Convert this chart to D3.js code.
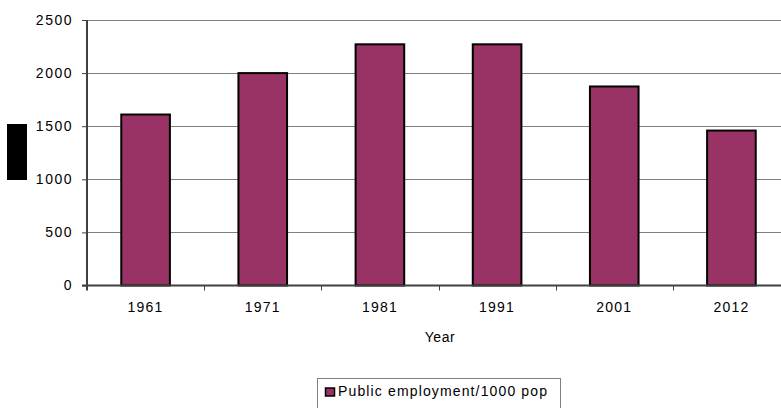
<!DOCTYPE html>
<html>
<head>
<meta charset="utf-8">
<script src="https://cdn.jsdelivr.net/npm/d3@7"></script>
<style>
  html, body { margin: 0; padding: 0; background: #fff; }
  svg { display: block; }
  text { font-family: "Liberation Sans", Arial, sans-serif; fill: #000; }
</style>
</head>
<body>
<svg id="chart" width="781" height="408"></svg>
<script>
// Public employment per 1000 population, census years
const years = ["1961", "1971", "1981", "1991", "2001", "2012"];
const employment = [1610, 2000, 2271, 2271, 1874, 1459];
const yTicks = [0, 500, 1000, 1500, 2000, 2500];
const seriesName = "Public employment/1000 pop";
const xTitle = "Year";

const svg = d3.select("#chart");
const plot = { left: 87, right: 790, top: 20, bottom: 285.5 };

const x = d3.scaleBand()
  .domain(years)
  .range([plot.left, plot.right])
  .paddingInner(0.585)
  .paddingOuter(0.2925);

const xCat = d3.scaleBand().domain(years).range([plot.left, plot.right]);

const y = d3.scaleLinear().domain([0, 2500]).range([plot.bottom, plot.top]);

// horizontal gridlines
svg.append("g")
  .selectAll("line")
  .data(yTicks.filter(d => d > 0))
  .join("line")
  .attr("x1", plot.left).attr("x2", plot.right)
  .attr("y1", d => Math.round(y(d)) + 0.5).attr("y2", d => Math.round(y(d)) + 0.5)
  .attr("stroke", "#808080").attr("stroke-width", 1);

// bars
svg.append("g")
  .selectAll("rect")
  .data(years.map((yr, i) => ({ yr, v: employment[i] })))
  .join("rect")
  .attr("x", d => x(d.yr))
  .attr("width", x.bandwidth())
  .attr("y", d => y(d.v))
  .attr("height", d => y(0) - y(d.v))
  .attr("fill", "#993366")
  .attr("stroke", "#000")
  .attr("stroke-width", 2);

// y axis
const yAxis = d3.axisLeft(y).tickValues(yTicks).tickSize(5).tickPadding(9).tickFormat(d3.format("d"));
const gy = svg.append("g").attr("transform", `translate(${plot.left},0)`).call(yAxis);
gy.select(".domain").remove();
gy.selectAll(".tick line").attr("stroke", "#404040").attr("stroke-width", 1);
gy.selectAll(".tick text")
  .style("font-family", "'Liberation Sans', Arial, sans-serif")
  .style("font-size", "14px")
  .style("letter-spacing", "1.5px")
  .attr("fill", "#000");
svg.append("line")
  .attr("x1", plot.left).attr("x2", plot.left)
  .attr("y1", plot.top).attr("y2", plot.bottom + 5)
  .attr("stroke", "#404040").attr("stroke-width", 2);

// x axis
const gx = svg.append("g").attr("transform", `translate(0,${plot.bottom})`)
  .call(d3.axisBottom(xCat).tickSize(0).tickPadding(17));
gx.select(".domain").remove();
gx.selectAll(".tick text")
  .style("font-family", "'Liberation Sans', Arial, sans-serif")
  .style("font-size", "14px")
  .style("letter-spacing", "1.2px")
  .attr("fill", "#000");
svg.append("line")
  .attr("x1", plot.left - 5).attr("x2", plot.right)
  .attr("y1", plot.bottom).attr("y2", plot.bottom)
  .attr("stroke", "#404040").attr("stroke-width", 2);
// category separator ticks
svg.append("g")
  .selectAll("line")
  .data(years.slice(1))
  .join("line")
  .attr("x1", d => Math.round(xCat(d)) + 0.5).attr("x2", d => Math.round(xCat(d)) + 0.5)
  .attr("y1", plot.bottom).attr("y2", plot.bottom + 5)
  .attr("stroke", "#404040").attr("stroke-width", 1);

// axis titles
svg.append("text")
  .attr("x", 440).attr("y", 342)
  .attr("text-anchor", "middle")
  .style("font-size", "14px")
  .style("letter-spacing", "0.6px")
  .text(xTitle);

// y axis title block
svg.append("rect")
  .attr("x", 7).attr("y", 124).attr("width", 20).attr("height", 56)
  .attr("fill", "#000");

// legend
const lg = svg.append("g");
lg.append("rect")
  .attr("x", 317.5).attr("y", 378.5).attr("width", 243).attr("height", 40)
  .attr("fill", "#fff").attr("stroke", "#808080").attr("stroke-width", 1);
lg.append("rect")
  .attr("x", 325.5).attr("y", 388).attr("width", 9).attr("height", 8)
  .attr("fill", "#993366").attr("stroke", "#000").attr("stroke-width", 1.5);
lg.append("text")
  .attr("x", 338).attr("y", 395.5)
  .style("font-size", "14px")
  .attr("textLength", 209)
  .attr("lengthAdjust", "spacing")
  .text(seriesName);
</script>
</body>
</html>
